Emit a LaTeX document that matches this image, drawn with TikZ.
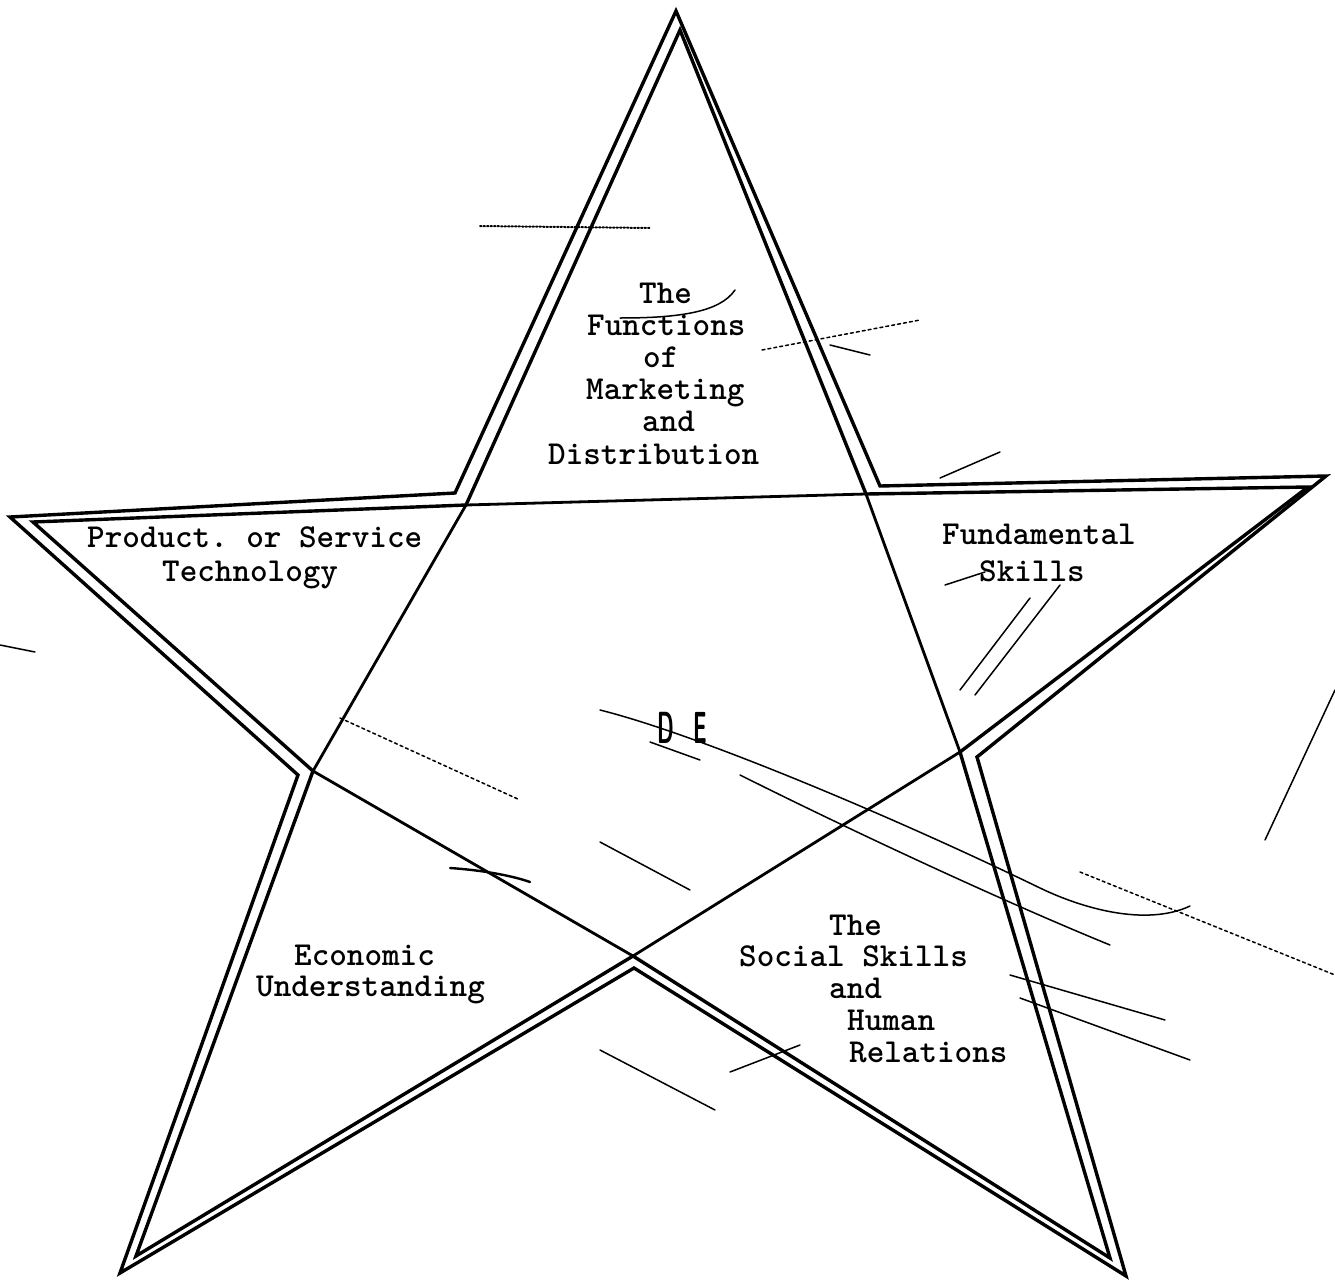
\documentclass[tikz,border=0pt]{standalone}
\usepackage{fontspec}
\begin{document}
\begin{tikzpicture}[x=1pt,y=-1pt,
  starline/.style={line width=3.4pt, line join=miter, miter limit=30},
  penta/.style={line width=2.8pt, line cap=round},
  txt/.style={font=\fontsize{33.5}{32}\selectfont\ttfamily\bfseries, inner sep=0pt, anchor=base west},
  stray/.style={line width=1.5pt, line cap=round},
]
\useasboundingbox[fill=white] (0,0) rectangle (1335,1282);
% outer contour of the star
\coordinate (oT) at (676,11);
\coordinate (oUR) at (880,486);
\coordinate (oRt) at (1326,476);
\coordinate (oR) at (977,757);
\coordinate (oBR) at (1126,1276);
\coordinate (oB) at (634,968);
\coordinate (oBL) at (120,1273);
\coordinate (oL) at (298,775);
\coordinate (oLt) at (10,517);
\coordinate (oUL) at (455,493);
% inner contour of the star
\coordinate (iT) at (680,30);
\coordinate (iUR) at (866,494);
\coordinate (iRt) at (1308,487);
\coordinate (iR) at (960,752);
\coordinate (iBR) at (1110,1258);
\coordinate (iB) at (633,956);
\coordinate (iBL) at (136,1256);
\coordinate (iL) at (313,771);
\coordinate (iLt) at (33,522);
\coordinate (iUL) at (466,505);

\draw[starline] (oT) -- (oUR) -- (oRt) -- (oR) -- (oBR) -- (oB) -- (oBL) -- (oL) -- (oLt) -- (oUL) -- cycle;
\draw[starline] (iT) -- (iUR) -- (iRt) -- (iR) -- (iBR) -- (iB) -- (iBL) -- (iL) -- (iLt) -- (iUL) -- cycle;
% inner pentagon
\draw[penta] (iUL) -- (iUR) -- (iR) -- (iB) -- (iL) -- (iUL);

% labels
\node[txt] (t1) at (639,303) {The};
\node[txt] (t2) at (587,335) {Functions};
\node[txt] (t3) at (643,367) {of};
\node[txt] (t4) at (586,399) {Marketing};
\node[txt] (t5) at (642,431) {and};
\node[txt] (t6) at (548,464) {Distribution};

\node[txt] (p1) at (87,547) {Product.\hspace{-0.15em} or Service};
\node[txt] (p2) at (162,581) {Technology};

\node[txt] (f1) at (942,544) {Fundamental};
\node[txt] (f2) at (979,581) {Skills};

\node[txt] (e1) at (294,965) {Economic};
\node[txt] (e2) at (256,996) {Understanding};

\node[txt] (s1) at (829,935) {The};
\node[txt] (s2) at (739,966) {Social Skills};
\node[txt] (s3) at (829,998) {and};
\node[txt] (s4) at (847,1030) {Human};
\node[txt] (s5) at (849,1062) {Relations};

\node[font=\sffamily\bfseries\fontsize{45}{45}\selectfont, inner sep=0pt] (de) at (682,728)
  {\scalebox{0.47}[1]{D\hspace{0.9em}E}};

% stray pen marks of the scan
\draw[stray] (600,710) .. controls (700,735) and (900,820) .. (1040,888) .. controls (1090,912) and (1150,925) .. (1190,906);
\draw[stray] (650,742) -- (700,760);
\draw[stray] (740,775) .. controls (850,830) and (1000,900) .. (1110,945);
\draw[stray, dashed] (340,718) -- (520,800);
\draw[stray] (600,842) -- (690,890);
\draw[stray, line width=2.4pt] (450,868) .. controls (480,870) and (510,875) .. (530,882);
\draw[stray] (600,1050) -- (715,1110);
\draw[stray] (1010,975) -- (1165,1020);
\draw[stray] (1020,998) -- (1190,1060);
\draw[stray, dashed] (1080,872) -- (1335,975);
\draw[stray] (1335,690) -- (1265,840);
\draw[stray] (940,478) -- (1000,452);
\draw[stray] (1030,598) -- (960,690);
\draw[stray] (1060,585) -- (975,695);
\draw[stray, dashed] (762,350) -- (920,320);
\draw[stray] (830,345) -- (870,355);
\draw[stray, dotted, line width=2pt] (480,226) -- (650,228);
\draw[stray] (620,318) .. controls (680,318) and (720,312) .. (735,290);
\draw[stray] (730,1072) -- (800,1045);
\draw[stray] (945,585) -- (985,572);
\draw[stray] (0,645) -- (35,652);
\end{tikzpicture}
\end{document}
